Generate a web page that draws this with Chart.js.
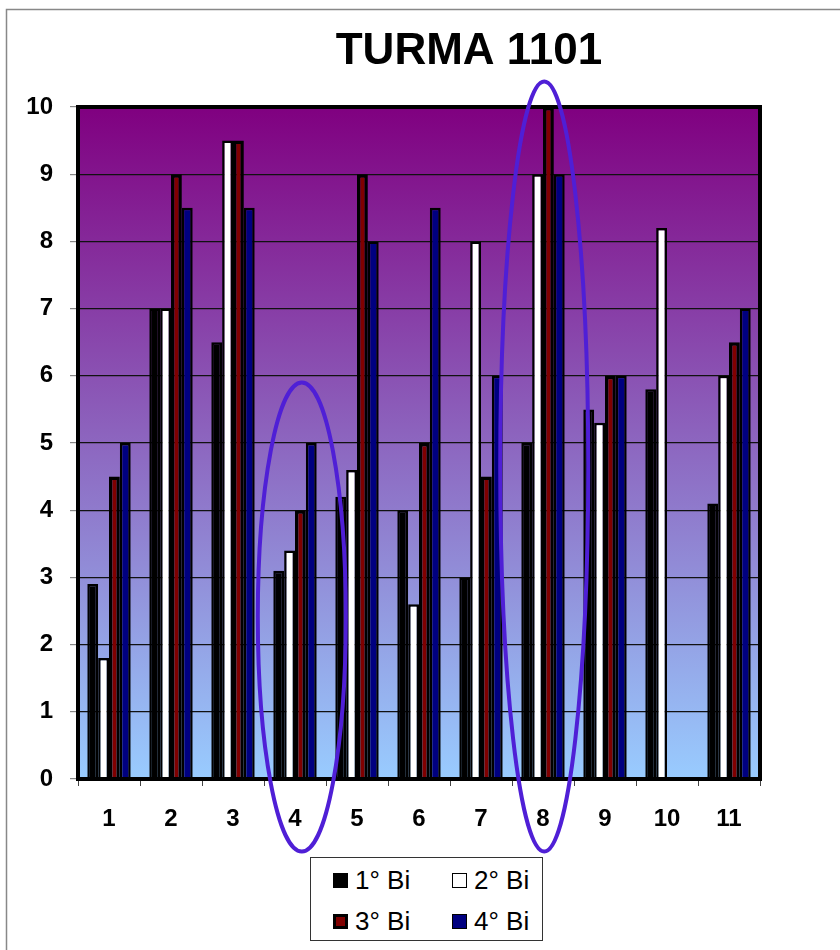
<!DOCTYPE html>
<html>
<head>
<meta charset="utf-8">
<script src="https://cdn.jsdelivr.net/npm/chart.js@4.4.1/dist/chart.umd.min.js"></script>
<style>
  html, body { margin: 0; padding: 0; background: #fff; }
  #wrap { position: relative; width: 840px; height: 950px; }
  #legend { position: absolute; left: 310px; top: 857px; width: 233px; height: 84px;
            border: 1.5px solid #333; background: #fff; box-sizing: border-box;
            font-family: "Liberation Sans", Arial, sans-serif; font-size: 26px; color: #000; }
  .item { position: absolute; display: flex; align-items: center; height: 30px; }
  .sw { width: 15px; height: 15px; box-sizing: border-box; border: 1.5px solid #000; margin-right: 7px; }
</style>
</head>
<body>
<div id="wrap">
  <canvas id="c" width="840" height="950"></canvas>
  <div id="legend"></div>
</div>
<script>
const categories = ['1', '2', '3', '4', '5', '6', '7', '8', '9', '10', '11'];
const seriesNames = ['1° Bi', '2° Bi', '3° Bi', '4° Bi'];
const bi1 = [2.9, 7.0, 6.5, 3.1, 4.2, 4.0, 3.0, 5.0, 5.5, 5.8, 4.1];
const bi2 = [1.8, 7.0, 9.5, 3.4, 4.6, 2.6, 8.0, 9.0, 5.3, 8.2, 6.0];
const bi3 = [4.5, 9.0, 9.5, 4.0, 9.0, 5.0, 4.5, 10.0, 6.0, null, 6.5];
const bi4 = [5.0, 8.5, 8.5, 5.0, 8.0, 8.5, 6.0, 9.0, 6.0, null, 7.0];
const yTicks = [0, 1, 2, 3, 4, 5, 6, 7, 8, 9, 10];
const titleText = 'TURMA 1101';

const fills = ['#000000', '#ffffff', '#800000', '#000080'];
const borders = [2.5, 2.5, 3.5, 2.5];
const seriesData = [bi1, bi2, bi3, bi4];

const bgPlugin = {
  id: 'bg',
  beforeDraw(chart) {
    const ctx = chart.ctx, a = chart.chartArea;
    ctx.save();
    ctx.fillStyle = '#fff';
    ctx.fillRect(0, 0, chart.width, chart.height);
    ctx.strokeStyle = '#888';
    ctx.lineWidth = 1.5;
    ctx.strokeRect(6.5, 9.5, 900, 1000);
    const g = ctx.createLinearGradient(0, a.top, 0, a.bottom);
    g.addColorStop(0, '#800080');
    g.addColorStop(1, '#99ccff');
    ctx.fillStyle = g;
    ctx.fillRect(a.left, a.top, a.right - a.left, a.bottom - a.top);
    ctx.restore();
  },
  afterDatasetsDraw(chart) {
    const ctx = chart.ctx, a = chart.chartArea;
    ctx.save();
    ctx.strokeStyle = '#000';
    ctx.lineWidth = 4;
    ctx.strokeRect(a.left, a.top, a.right - a.left, a.bottom - a.top);
    ctx.restore();
  },
  afterDraw(chart) {
    const ctx = chart.ctx;
    const x = chart.scales.x, y = chart.scales.y;
    const cw = x.getPixelForValue(1) - x.getPixelForValue(0);
    // title
    ctx.save();
    ctx.fillStyle = '#000';
    ctx.font = 'bold 44px "Liberation Sans", Arial, sans-serif';
    ctx.textAlign = 'center';
    ctx.textBaseline = 'middle';
    ctx.fillText(titleText, 469, 52);
    ctx.restore();
    // annotation ellipses around groups 4 and 8
    const marks = [
      { idx: 3, dx: 0.11, top: 5.9, bottom: -1.08 },
      { idx: 7, dx: 0.02, top: 10.38, bottom: -1.08 }
    ];
    ctx.save();
    ctx.strokeStyle = '#4f1fd6';
    ctx.lineWidth = 4;
    marks.forEach(m => {
      const cx = x.getPixelForValue(m.idx) + m.dx * cw;
      const t = y.getPixelForValue(m.top), b = y.getPixelForValue(m.bottom);
      ctx.beginPath();
      ctx.ellipse(cx, (t + b) / 2, 0.71 * cw, (b - t) / 2, 0, 0, Math.PI * 2);
      ctx.stroke();
    });
    ctx.restore();
  }
};

new Chart(document.getElementById('c'), {
  type: 'bar',
  data: {
    labels: categories,
    datasets: seriesNames.map((n, i) => ({
      label: n,
      data: seriesData[i],
      backgroundColor: fills[i],
      borderColor: '#000',
      borderWidth: borders[i],
      borderSkipped: 'start',
      categoryPercentage: 0.7,
      barPercentage: 1.0
    }))
  },
  options: {
    responsive: false,
    animation: false,
    layout: { padding: { top: 107, right: 80, bottom: 0, left: 0 } },
    plugins: {
      legend: { display: false },
      title: { display: false },
      tooltip: { enabled: false }
    },
    scales: {
      x: {
        afterFit(s) { s.height = 171; },
        grid: { display: true, drawOnChartArea: false, drawTicks: true, tickLength: 7, tickColor: '#444', offset: true },
        border: { display: false },
        ticks: { color: '#000', padding: 19, font: { family: '"Liberation Sans", Arial, sans-serif', size: 24, weight: 'bold' } }
      },
      y: {
        min: 0, max: 10,
        afterFit(s) { s.width = 78; },
        afterBuildTicks(s) { s.ticks = yTicks.map(v => ({ value: v })); },
        grid: { color: '#111', lineWidth: 1.2, drawTicks: true, tickLength: 8, tickColor: '#888' },
        border: { display: false },
        ticks: { color: '#000', padding: 17, font: { family: '"Liberation Sans", Arial, sans-serif', size: 24, weight: 'bold' } }
      }
    }
  },
  plugins: [bgPlugin]
});

// HTML legend built from series names
const legend = document.getElementById('legend');
const pos = [[22, 7], [141, 7], [22, 48], [141, 48]];
seriesNames.forEach((n, i) => {
  const it = document.createElement('div');
  it.className = 'item';
  it.style.left = pos[i][0] + 'px';
  it.style.top = pos[i][1] + 'px';
  const sw = document.createElement('span');
  sw.className = 'sw';
  sw.style.background = fills[i];
  if (i === 2) sw.style.borderWidth = '3px';
  const tx = document.createElement('span');
  tx.textContent = n;
  it.appendChild(sw); it.appendChild(tx);
  legend.appendChild(it);
});
</script>
</body>
</html>
